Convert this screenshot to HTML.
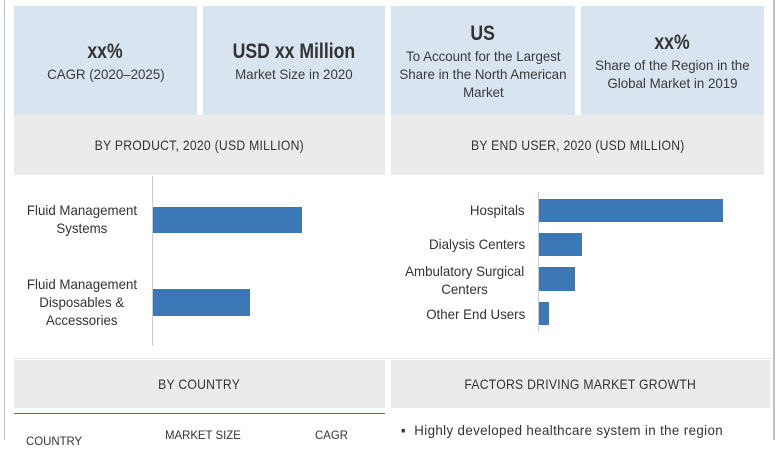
<!DOCTYPE html>
<html><head><meta charset="utf-8"><style>
*{margin:0;padding:0;box-sizing:border-box}
body{width:780px;height:440px;overflow:hidden;background:#fff;position:relative;font-family:"Liberation Sans",sans-serif;color:#333}
.a{position:absolute}
.n{display:inline-block;transform:scaleX(0.95);transform-origin:center;white-space:nowrap}
.big .n{transform:scaleX(0.84)}
.hdr .n{transform:scaleX(0.87)}
.r .n{transform-origin:right}
.l .n{transform-origin:left}
.box{background:#d8e4f0;display:flex;flex-direction:column;align-items:center;justify-content:center;text-align:center;font-size:14px;line-height:18px;color:#3a3a3a}
.big{font-size:21px;line-height:26px;font-weight:bold;color:#333}
.hdr{background:#ebebeb;display:flex;align-items:center;justify-content:center;font-size:14px;letter-spacing:0.3px;color:#333}
.bar{background:#3c78b5;position:absolute}
.lab{position:absolute;font-size:14px;line-height:18px;color:#333}
</style></head><body>
<div class="a" style="left:4px;top:0;width:1px;height:440px;background:#b8c0c8"></div>
<div class="a" style="left:773px;top:0;width:2px;height:440px;background:#b8c0c8"></div>

<div class="a box" style="left:14px;top:6px;width:183px;height:109px"><div class="big"><span class="n">xx%</span></div><div><span class="n">CAGR (2020–2025)</span></div></div>
<div class="a box" style="left:203px;top:6px;width:182px;height:109px"><div class="big"><span class="n">USD xx Million</span></div><div><span class="n">Market Size in 2020</span></div></div>
<div class="a box" style="left:391px;top:6px;width:184px;height:109px"><div class="big"><span class="n">US</span></div><div><span class="n">To Account for the Largest</span><br><span class="n">Share in the North American</span><br><span class="n">Market</span></div></div>
<div class="a box" style="left:581px;top:6px;width:183px;height:109px"><div class="big"><span class="n">xx%</span></div><div><span class="n">Share of the Region in the</span><br><span class="n">Global Market in 2019</span></div></div>

<div class="a hdr" style="left:14px;top:115px;width:371px;height:60px"><span class="n">BY PRODUCT, 2020 (USD MILLION)</span></div>
<div class="a hdr" style="left:391px;top:115px;width:373px;height:60px"><span class="n">BY END USER, 2020 (USD MILLION)</span></div>

<div class="a" style="left:152px;top:176px;width:1px;height:170px;background:#ccc"></div>
<div class="bar" style="left:153px;top:207px;width:149px;height:26px"></div>
<div class="bar" style="left:153px;top:289px;width:97px;height:27px"></div>
<div class="lab" style="left:14px;top:201px;width:136px;text-align:center"><span class="n">Fluid Management</span><br><span class="n">Systems</span></div>
<div class="lab" style="left:14px;top:275px;width:136px;text-align:center"><span class="n">Fluid Management</span><br><span class="n">Disposables &amp;</span><br><span class="n">Accessories</span></div>

<div class="a" style="left:538px;top:192px;width:1px;height:140px;background:#ccc"></div>
<div class="bar" style="left:539px;top:199px;width:184px;height:23px"></div>
<div class="bar" style="left:539px;top:233px;width:43px;height:23px"></div>
<div class="bar" style="left:539px;top:267px;width:36px;height:24px"></div>
<div class="bar" style="left:539px;top:302px;width:10px;height:23px"></div>
<div class="lab r" style="left:400px;top:201px;width:125px;text-align:right"><span class="n">Hospitals</span></div>
<div class="lab r" style="left:400px;top:235px;width:125px;text-align:right"><span class="n">Dialysis Centers</span></div>
<div class="lab" style="left:402px;top:262px;width:126px;text-align:center"><span class="n">Ambulatory Surgical</span><br><span class="n">Centers</span></div>
<div class="lab r" style="left:400px;top:305px;width:125px;text-align:right"><span class="n">Other End Users</span></div>

<div class="a" style="left:14px;top:358px;width:760px;height:1px;background:#e4e4e4"></div>
<div class="a hdr" style="left:14px;top:360px;width:371px;height:48px"><span class="n">BY COUNTRY</span></div>
<div class="a hdr" style="left:391px;top:360px;width:379px;height:48px"><span class="n">FACTORS DRIVING MARKET GROWTH</span></div>

<div class="a" style="left:14px;top:413px;width:371px;height:1px;background:#4a6a86"></div>
<div class="lab l" style="left:26px;top:432px;font-size:12px"><span class="n">COUNTRY</span></div>
<div class="lab l" style="left:165px;top:426px;font-size:12px"><span class="n">MARKET SIZE</span></div>
<div class="lab l" style="left:315px;top:426px;font-size:12px"><span class="n">CAGR</span></div>
<div class="lab l" style="left:401px;top:421px;font-size:14px;letter-spacing:0.4px"><span class="n">▪&nbsp;&nbsp;Highly developed healthcare system in the region</span></div>
</body></html>
